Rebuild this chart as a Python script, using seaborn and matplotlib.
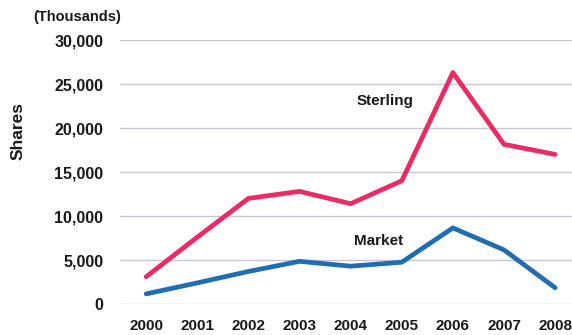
import matplotlib
matplotlib.use("Agg")
import matplotlib.pyplot as plt
import seaborn as sns
import pandas as pd
from matplotlib.ticker import FuncFormatter

years = ["2000", "2001", "2002", "2003", "2004", "2005", "2006", "2007", "2008"]
sterling = [3100, 7600, 12000, 12800, 11400, 14000, 26300, 18150, 17000]
market = [1150, 2400, 3700, 4850, 4300, 4750, 8650, 6150, 1850]
y_ticks = [0, 5000, 10000, 15000, 20000, 25000, 30000]

df = pd.DataFrame({
    "pos": list(range(len(years))) * 2,
    "value": sterling + market,
    "series": ["Sterling"] * len(years) + ["Market"] * len(years),
})

sns.set_style("white")
plt.rcParams["font.family"] = ["Liberation Sans", "DejaVu Sans"]
plt.rcParams["font.weight"] = "bold"

fig = plt.figure(figsize=(5.72, 3.35), dpi=100)
ax = fig.add_axes([0.21, 0.0925, 0.79, 0.788])

sns.lineplot(data=df, x="pos", y="value", hue="series",
             palette={"Sterling": "#ee2a62", "Market": "#1f6db3"},
             linewidth=3.4, legend=False, ax=ax)

ax.set_xlim(-0.51, 8.33)
ax.set_ylim(0, 30000)
ax.set_yticks(y_ticks)
ax.yaxis.set_major_formatter(FuncFormatter(lambda v, p: f"{int(v):,}"))
ax.set_xticks(range(len(years)))
ax.set_xticklabels(years)
ax.grid(axis="y", color="#c9c7d6", linewidth=1.0)
ax.set_axisbelow(True)
for s in ax.spines.values():
    s.set_visible(False)
ax.tick_params(axis="y", length=0, pad=12, labelsize=11.5, labelcolor="#1a1a1a")
ax.tick_params(axis="x", length=0, pad=11, labelsize=11, labelcolor="#1a1a1a")
for lbl in ax.get_xticklabels() + ax.get_yticklabels():
    lbl.set_fontweight("bold")

ax.set_xlabel("")
ax.set_ylabel("Shares", fontsize=12.5, fontweight="bold", color="#1a1a1a")
ax.yaxis.set_label_coords(-0.21, 0.656)

ax.text(4.68, 23100, "Sterling", ha="center", va="center",
        fontsize=11, fontweight="bold", color="#1a1a1a")
ax.text(4.54, 7200, "Market", ha="center", va="center",
        fontsize=11, fontweight="bold", color="#1a1a1a")
fig.text(77 / 572, 1 - 17 / 335, "(Thousands)", ha="center", va="center",
         fontsize=10.5, fontweight="bold", color="#1a1a1a")

fig.savefig("out.png", dpi=100)
